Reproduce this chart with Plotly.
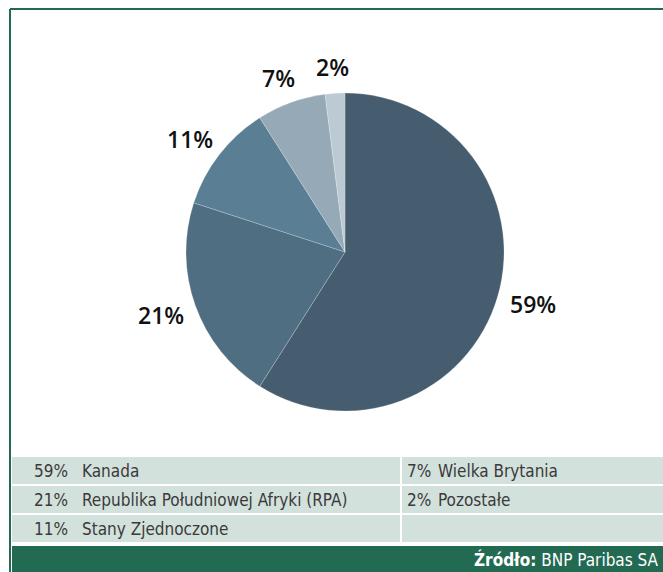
import math
import plotly.graph_objects as go

# Data
countries = ["Kanada", "Republika Południowej Afryki (RPA)", "Stany Zjednoczone",
             "Wielka Brytania", "Pozostałe"]
shares = [59, 21, 11, 7, 2]
slice_colors = ["#465d70", "#4f6e82", "#5a7f95", "#96a9b7", "#bccad3"]
source_label = "Źródło:"
source_name = "BNP Paribas SA"

W, H = 663, 572
GREEN = "#236a53"
CELL = "#d3e1dc"
FONT = "Liberation Sans Narrow, DejaVu Sans Condensed, Roboto, sans-serif"
LABEL_FONT = dict(family="Open Sans, sans-serif", size=23, color="#111111", weight=600)


def px(x):
    return x / W


def py(y):
    return 1 - y / H


# pie centre and radius (page pixels)
CX, CY, R = 345, 252, 159

fig = go.Figure()

fig.add_trace(go.Pie(
    labels=countries,
    values=shares,
    sort=False,
    direction="clockwise",
    rotation=0,
    marker=dict(colors=slice_colors, line=dict(color="rgba(255,255,255,0.35)", width=0.6)),
    textinfo="none",
    domain=dict(x=[px(CX - R), px(CX + R)], y=[py(CY + R), py(CY - R)]),
    showlegend=False,
    hoverinfo="label+value",
))

shapes = []
annotations = []

# percentage labels placed outside each slice, Excel-style
total = sum(shares)
cum = 0
for val in shares:
    mid = (cum + val / 2) / total * 2 * math.pi
    cum += val
    dx, dy = math.sin(mid), -math.cos(mid)
    r = R + 14
    w, h = 46, 24
    x = CX + r * dx + w / 2 * dx
    y = CY + r * dy + h / 2 * dy
    annotations.append(dict(xref="paper", yref="paper", x=px(x), y=py(y),
                            xanchor="center", yanchor="middle", showarrow=False,
                            text=f"{val}%", font=LABEL_FONT))

# frame: top and left green border
shapes.append(dict(type="line", xref="paper", yref="paper",
                   x0=px(10), x1=1, y0=py(9), y1=py(9),
                   line=dict(color=GREEN, width=2)))
shapes.append(dict(type="line", xref="paper", yref="paper",
                   x0=px(10), x1=px(10), y0=py(9), y1=0,
                   line=dict(color=GREEN, width=2)))

# legend table: 3 rows, 2 columns
row_top, row_h, gap = 457, 27, 2
col_x = [(12, 400), (402, 663)]
cells = [[] for _ in range(3)]
for i, (name, val) in enumerate(zip(countries, shares)):
    col, row = divmod(i, 3)
    cells[row].append((col, val, name))

for row in range(3):
    y0 = row_top + row * (row_h + gap)
    for col, (xa, xb) in enumerate(col_x):
        shapes.append(dict(type="rect", xref="paper", yref="paper",
                           x0=px(xa), x1=px(xb), y0=py(y0 + row_h), y1=py(y0),
                           fillcolor=CELL, line=dict(width=0), layer="below"))
    for col, val, name in cells[row]:
        pct_x = 32 if col == 0 else 405
        name_x = 80 if col == 0 else 436
        yc = py(y0 + row_h / 2)
        annotations.append(dict(xref="paper", yref="paper", x=px(pct_x), y=yc,
                                xanchor="left", yanchor="middle", showarrow=False,
                                text=f"{val}%",
                                font=dict(family=FONT, size=17, color="#3a3a3a")))
        annotations.append(dict(xref="paper", yref="paper", x=px(name_x), y=yc,
                                xanchor="left", yanchor="middle", showarrow=False,
                                text=name,
                                font=dict(family=FONT, size=17, color="#3a3a3a")))

# source bar
shapes.append(dict(type="rect", xref="paper", yref="paper",
                   x0=px(12), x1=1, y0=0, y1=py(546),
                   fillcolor=GREEN, line=dict(width=0), layer="below"))
annotations.append(dict(xref="paper", yref="paper", x=px(661), y=py(559),
                        xanchor="right", yanchor="middle", showarrow=False,
                        text=f"<b>{source_label}</b> {source_name}",
                        font=dict(family=FONT, size=17, color="white")))

fig.update_layout(
    width=W, height=H,
    margin=dict(l=0, r=0, t=0, b=0),
    paper_bgcolor="white",
    plot_bgcolor="white",
    shapes=shapes,
    annotations=annotations,
)

fig.write_html("out.html", config={"displayModeBar": False},
               post_script="document.body.style.margin='0';")
